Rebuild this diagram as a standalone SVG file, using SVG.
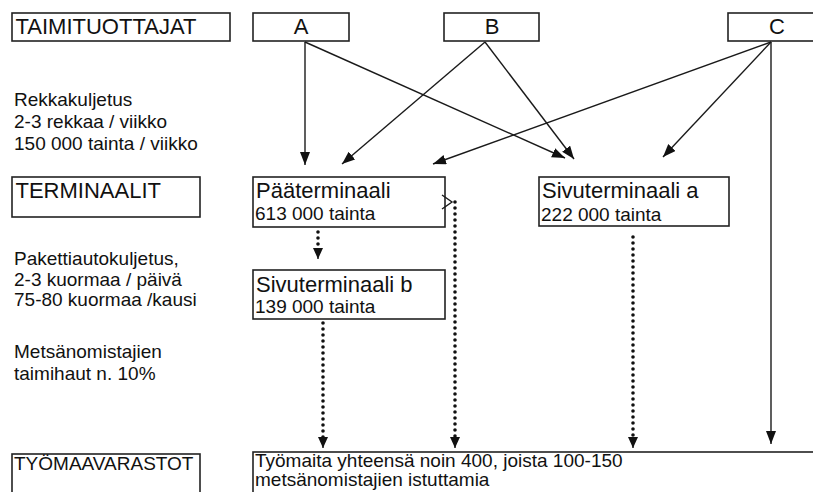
<svg xmlns="http://www.w3.org/2000/svg" width="813" height="492" viewBox="0 0 813 492">
<style>
.box{fill:#fff;stroke:#222;stroke-width:1.6}
text{font-family:"Liberation Sans",Arial,sans-serif;fill:#111}
.h{font-size:22px}
.n{font-size:22px}
.s{font-size:19px}
.c{font-size:19px}
.line{stroke:#1a1a1a;stroke-width:1.4;fill:none}
.dot{stroke:#111;stroke-width:3.6;stroke-linecap:round;stroke-dasharray:0 6;fill:none}
</style>
<defs>
<marker id="ah" markerUnits="userSpaceOnUse" markerWidth="14" markerHeight="12" refX="13" refY="5" orient="auto">
<path d="M0,0 L13,5 L0,10 Z" fill="#111"/>
</marker>
<marker id="ad" markerUnits="userSpaceOnUse" markerWidth="12" markerHeight="12" refX="11" refY="5" orient="auto">
<path d="M0,0 L11,5 L0,10 Z" fill="#111"/>
</marker>
</defs>
<rect width="813" height="492" fill="#fff"/>

<g id="taimituottajat"><rect class="box" x="12" y="13" width="218" height="28"/><text class="h" x="15.5" y="34">TAIMITUOTTAJAT</text></g>
<g id="A"><rect class="box" x="253" y="13" width="96" height="28"/><text class="h" x="301" y="34" text-anchor="middle">A</text></g>
<g id="B"><rect class="box" x="444" y="13" width="95" height="28"/><text class="h" x="492" y="34" text-anchor="middle">B</text></g>
<g id="C"><rect class="box" x="728" y="13" width="100" height="28"/><text class="h" x="777" y="34" text-anchor="middle">C</text></g>

<g id="label-rekka"><text class="s" x="14" y="106">Rekkakuljetus</text><text class="s" x="14" y="128">2-3 rekkaa / viikko</text><text class="s" x="14" y="150">150 000 tainta / viikko</text></g>

<g id="terminaalit"><rect class="box" x="12" y="177" width="188" height="40"/><text class="h" x="15.5" y="198">TERMINAALIT</text></g>
<g id="paaterminaali"><rect class="box" x="253" y="177" width="192" height="50"/><text class="n" x="256" y="198">Pääterminaali</text><text class="c" x="255" y="220">613 000 tainta</text></g>
<g id="sivuterminaali-a"><rect class="box" x="539" y="177" width="190" height="49"/><text class="n" x="542" y="198">Sivuterminaali a</text><text class="c" x="541" y="221">222 000 tainta</text></g>
<g id="sivuterminaali-b"><rect class="box" x="253" y="270" width="192" height="49"/><text class="n" x="256" y="292">Sivuterminaali b</text><text class="c" x="255" y="313">139 000 tainta</text></g>

<g id="label-paketti"><text class="s" x="14" y="265">Pakettiautokuljetus,</text><text class="s" x="14" y="286">2-3 kuormaa / päivä</text><text class="s" x="14" y="306">75-80 kuormaa /kausi</text></g>
<g id="label-metsa"><text class="s" x="14" y="358">Metsänomistajien</text><text class="s" x="14" y="380">taimihaut n. 10%</text></g>

<g id="tyomaavarastot"><rect class="box" x="12" y="454" width="188" height="60"/><text class="s" x="14" y="470">TYÖMAAVARASTOT</text></g>
<g id="tyomaat"><rect class="box" x="253" y="452" width="600" height="60"/><text class="c" x="255" y="467">Työmaita yhteensä noin 400, joista 100-150</text><text class="c" x="255" y="486">metsänomistajien istuttamia</text></g>

<g id="connectors">
<line class="line" x1="305" y1="42" x2="305" y2="165" marker-end="url(#ah)"/>
<line class="line" x1="305" y1="42" x2="565" y2="158" marker-end="url(#ah)"/>
<line class="line" x1="485" y1="42" x2="342" y2="164" marker-end="url(#ah)"/>
<line class="line" x1="485" y1="42" x2="574" y2="159" marker-end="url(#ah)"/>
<line class="line" x1="771" y1="42" x2="433" y2="164" marker-end="url(#ah)"/>
<line class="line" x1="771" y1="42" x2="663" y2="157" marker-end="url(#ah)"/>
<line class="line" x1="771" y1="42" x2="771" y2="444" marker-end="url(#ah)"/>
<line class="dot" x1="318" y1="232" x2="318" y2="250"/>
<line class="line" x1="318" y1="250" x2="318" y2="259" marker-end="url(#ad)"/>
<line class="dot" x1="323" y1="323" x2="323" y2="440"/>
<line class="line" x1="323" y1="440" x2="323" y2="448" marker-end="url(#ad)"/>
<line class="dot" x1="455" y1="202" x2="455" y2="440"/>
<line class="line" x1="455" y1="440" x2="455" y2="448" marker-end="url(#ad)"/>
<path class="line" d="M442,195 L452,202 L442,209"/>
<line class="dot" x1="633" y1="237" x2="633" y2="440"/>
<line class="line" x1="633" y1="440" x2="633" y2="448" marker-end="url(#ad)"/>
</g>
</svg>
